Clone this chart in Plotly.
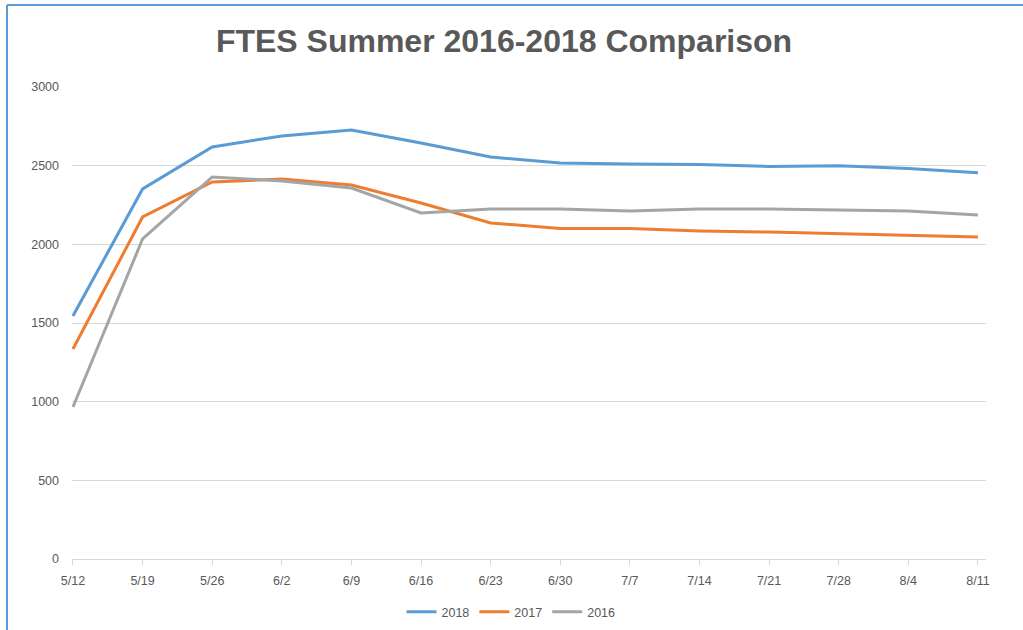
import plotly.graph_objects as go

categories = ["5/12", "5/19", "5/26", "6/2", "6/9", "6/16", "6/23", "6/30",
              "7/7", "7/14", "7/21", "7/28", "8/4", "8/11"]
fte_2018 = [1545, 2352, 2619, 2689, 2727, 2644, 2555, 2517, 2510, 2508, 2495, 2500, 2482, 2455]
fte_2017 = [1335, 2174, 2396, 2415, 2377, 2263, 2136, 2100, 2100, 2085, 2078, 2069, 2060, 2047]
fte_2016 = [966, 2034, 2428, 2403, 2358, 2199, 2225, 2225, 2212, 2225, 2225, 2218, 2212, 2187]
y_ticks = [0, 500, 1000, 1500, 2000, 2500, 3000]

W, H = 1023, 630
L, R, T, B = 72, 37, 87, 71
PW, PH = W - L - R, H - T - B

xs = list(range(len(categories)))
fig = go.Figure()
for name, vals, col in [("2018", fte_2018, "#5B9BD5"),
                        ("2017", fte_2017, "#ED7D31"),
                        ("2016", fte_2016, "#A5A5A5")]:
    fig.add_trace(go.Scatter(x=xs, y=vals, name=name, mode="lines",
                             line=dict(color=col, width=3)))

def px_x(p):
    return (p - L) / PW

def px_y(p):
    return (H - B - p) / PH

border = "#5B9BD5"
fig.add_shape(type="line", xref="paper", yref="paper",
              x0=px_x(7), x1=px_x(1030), y0=px_y(5), y1=px_y(5),
              line=dict(color=border, width=2))
fig.add_shape(type="line", xref="paper", yref="paper",
              x0=px_x(7), x1=px_x(7), y0=px_y(5), y1=px_y(640),
              line=dict(color=border, width=2))

font_fam = "Liberation Sans, Arial, sans-serif"
fig.update_layout(
    width=W, height=H,
    margin=dict(l=L, r=R, t=T, b=B, autoexpand=False),
    paper_bgcolor="white", plot_bgcolor="white",
    font=dict(family=font_fam, color="#595959", size=12),
    title=dict(text="<b>FTES Summer 2016-2018 Comparison</b>",
               x=504 / W, xref="container", xanchor="center",
               y=1 - 41 / H, yref="container", yanchor="middle",
               font=dict(size=32, color="#595959", family=font_fam)),
    showlegend=True,
    legend=dict(orientation="h", x=511 / W, xref="container", xanchor="center",
                y=px_y(612), yanchor="middle",
                font=dict(size=12.5, color="#595959"),
                bgcolor="rgba(0,0,0,0)"),
    xaxis=dict(range=[-0.014, 13.116], tickmode="array", tickvals=xs,
               ticktext=categories, showgrid=False, zeroline=False,
               showline=True, linecolor="#D9D9D9", linewidth=1,
               ticks="outside", ticklen=5, tickcolor="#D9D9D9",
               ticklabelstandoff=5,
               tickfont=dict(size=12.5, color="#595959")),
    yaxis=dict(range=[0, 3000], tickmode="array", tickvals=y_ticks,
               showgrid=True, gridcolor="#D9D9D9", gridwidth=1,
               zeroline=False, showline=False, ticks="",
               ticklabelstandoff=12,
               tickfont=dict(size=12.5, color="#595959")),
)

fig.write_html("out.html",
               config={"displayModeBar": False},
               post_script="document.body.style.margin='0';document.body.style.overflow='hidden';")
